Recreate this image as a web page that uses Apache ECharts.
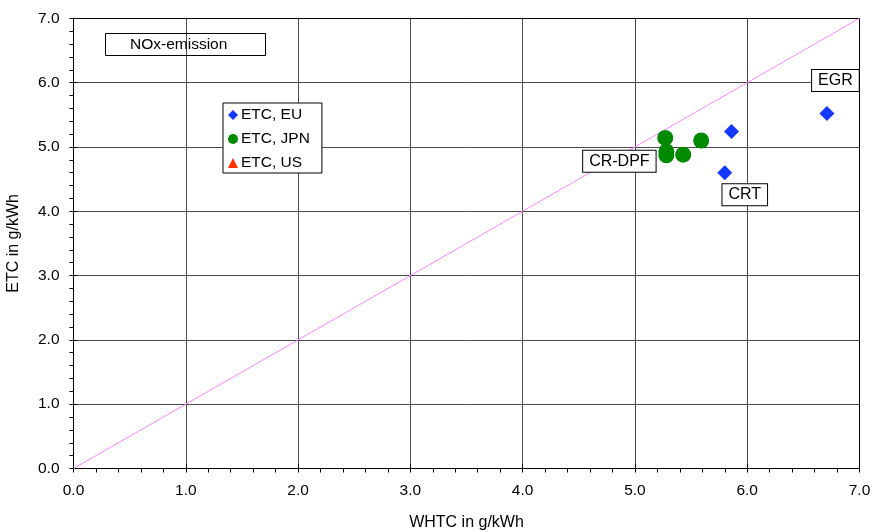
<!DOCTYPE html>
<html>
<head>
<meta charset="utf-8">
<script src="https://cdn.jsdelivr.net/npm/echarts@6/dist/echarts.min.js"></script>
<style>
  html, body { margin: 0; padding: 0; background: #fff; }
  #chart { width: 873px; height: 532px; }
</style>
</head>
<body>
<div id="chart"></div>
<script>
// NOx emission: ETC vs WHTC results (g/kWh)
const etcEU = [[6.71, 5.52], [5.86, 5.24], [5.80, 4.60]];
const etcJPN = [[5.27, 5.14], [5.28, 4.93], [5.28, 4.87], [5.43, 4.88], [5.59, 5.10]];
const etcUS = [];
const diagonal = [[0, 0], [7, 7]];
const axisMin = 0, axisMax = 7, axisStep = 1;

const font = 'Liberation Sans, Arial, sans-serif';
const chart = echarts.init(document.getElementById('chart'), null, { renderer: 'canvas' });

// boxed annotation placed relative to its data point
const boxLabel = (text, offset) => ({
  show: true,
  formatter: text,
  position: 'inside',
  offset: offset,
  color: '#000',
  fontFamily: font,
  fontSize: 16,
  backgroundColor: '#fff',
  borderColor: '#000',
  borderWidth: 1,
  padding: [3, 6, 2, 6]
});

function valueAxis(extra) {
  return Object.assign({
    type: 'value',
    min: axisMin,
    max: axisMax,
    interval: axisStep,
    axisLine: { show: true, onZero: false, lineStyle: { color: '#000', width: 1 } },
    splitLine: { show: false },
    minorSplitLine: { show: false }
  }, extra);
}

const tickOut = { show: true, inside: false, length: 4, lineStyle: { color: '#000' } };
const tickIn = { show: true, inside: true, length: 4, lineStyle: { color: '#000' } };
const minorOut = { show: true, splitNumber: 5, length: 4, lineStyle: { color: '#000' } };
const tickLabel = { color: '#000', fontFamily: font, fontSize: 15.5, margin: 14, formatter: v => v.toFixed(1) };

const option = {
  animation: false,
  backgroundColor: '#fff',
  textStyle: { fontFamily: font },
  title: {
    text: 'NOx-emission',
    left: 105,
    top: 33,
    borderColor: '#000',
    borderWidth: 1,
    padding: [4, 38, 3, 25],
    textStyle: { fontFamily: font, fontSize: 15.5, fontWeight: 'normal', color: '#000' }
  },
  legend: {
    orient: 'vertical',
    left: 223,
    top: 103,
    borderColor: '#000',
    borderWidth: 1,
    backgroundColor: '#fff',
    padding: [4, 12, 2, 5],
    itemGap: 8,
    itemWidth: 10,
    itemHeight: 10,
    textStyle: { fontFamily: font, fontSize: 15.5, color: '#000', padding: [0, 0, 0, -2] },
    data: [
      { name: 'ETC, EU', icon: 'diamond' },
      { name: 'ETC, JPN', icon: 'circle' },
      { name: 'ETC, US', icon: 'triangle' }
    ]
  },
  grid: { left: 73.5, right: 13.5, top: 18.3, bottom: 63.5, containLabel: false, outerBoundsMode: 'none' },
  xAxis: [
    valueAxis({
      position: 'bottom',
      name: 'WHTC in g/kWh',
      nameLocation: 'middle',
      nameGap: 46,
      nameTextStyle: { fontFamily: font, fontSize: 16, color: '#000' },
      axisLabel: tickLabel,
      axisTick: tickOut,
      minorTick: minorOut,
      splitLine: { show: true, lineStyle: { color: '#4a4a4a', width: 1 } }
    }),
    valueAxis({
      position: 'bottom',
      axisLabel: { show: false },
      axisTick: tickIn,
      minorTick: { show: false }
    }),
    valueAxis({
      position: 'top',
      axisLabel: { show: false },
      axisTick: { show: false },
      minorTick: { show: false }
    })
  ],
  yAxis: [
    valueAxis({
      position: 'left',
      name: 'ETC in g/kWh',
      nameLocation: 'middle',
      nameGap: 52,
      nameTextStyle: { fontFamily: font, fontSize: 16, color: '#000' },
      axisLabel: tickLabel,
      axisTick: tickOut,
      minorTick: minorOut,
      splitLine: { show: true, lineStyle: { color: '#4a4a4a', width: 1 } }
    }),
    valueAxis({
      position: 'left',
      axisLabel: { show: false },
      axisTick: tickIn,
      minorTick: { show: false }
    }),
    valueAxis({
      position: 'right',
      axisLabel: { show: false },
      axisTick: { show: false },
      minorTick: { show: false }
    })
  ],
  series: [
    {
      name: 'diagonal',
      type: 'line',
      data: diagonal,
      symbol: 'none',
      silent: true,
      lineStyle: { color: '#ff88ff', width: 1 },
      z: 1
    },
    {
      name: 'ETC, EU',
      type: 'scatter',
      symbol: 'diamond',
      symbolSize: 15,
      itemStyle: { color: '#1538ff', opacity: 1 },
      data: etcEU.map((p, i) => {
        const item = { value: p };
        if (i === 0) item.label = boxLabel('EGR', [8.5, -33]);
        if (i === 2) item.label = boxLabel('CRT', [20, 22]);
        return item;
      }),
      z: 3
    },
    {
      name: 'ETC, JPN',
      type: 'scatter',
      symbol: 'circle',
      symbolSize: 16,
      itemStyle: { color: '#008a00', opacity: 1 },
      data: etcJPN.map((p, i) => {
        const item = { value: p };
        if (i === 2) item.label = boxLabel('CR-DPF', [-47, 6]);
        return item;
      }),
      z: 3
    },
    {
      name: 'ETC, US',
      type: 'scatter',
      symbol: 'triangle',
      symbolSize: 12,
      itemStyle: { color: '#ff3300', opacity: 1 },
      data: etcUS
    }
  ]
};

chart.setOption(option);
</script>
</body>
</html>
